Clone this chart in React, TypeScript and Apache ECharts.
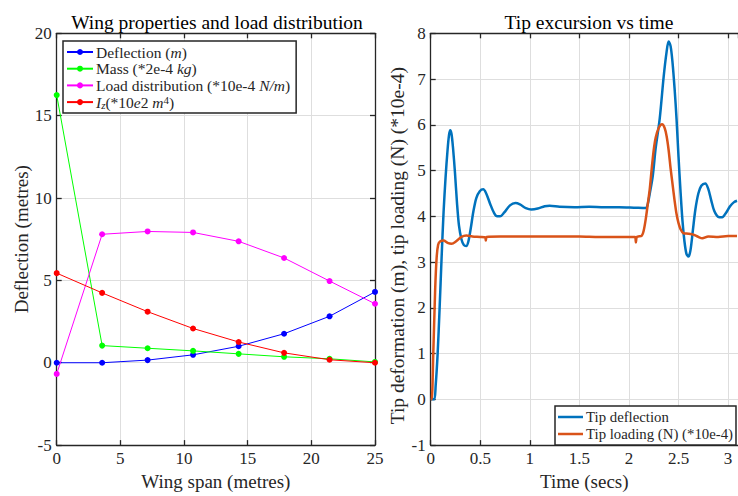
import React, { useEffect, useRef } from 'react';
import * as echarts from 'echarts';

// ---- Left plot data (wing span stations, metres) ----
const spanStations = [0, 3.57, 7.14, 10.71, 14.29, 17.86, 21.43, 25];
const deflection = [0, 0, 0.16, 0.48, 1.0, 1.76, 2.82, 4.3];
const mass = [16.25, 1.04, 0.88, 0.72, 0.54, 0.36, 0.24, 0.05];
const loadDist = [-0.68, 7.8, 7.97, 7.91, 7.37, 6.36, 4.96, 3.58];
const inertia = [5.44, 4.24, 3.1, 2.08, 1.26, 0.6, 0.18, 0];

// ---- Right plot data (time secs, value) ----
const tipDeflection: [number, number][] = [
  [0, 0], [0.035, 0], [0.05, 0.3], [0.07, 1.0], [0.09, 2.0], [0.11, 3.1], [0.13, 4.1],
  [0.15, 4.85], [0.17, 5.45], [0.185, 5.78], [0.197, 5.88], [0.21, 5.8], [0.225, 5.5],
  [0.245, 4.95], [0.265, 4.3], [0.285, 3.8], [0.31, 3.5], [0.335, 3.37], [0.358, 3.35],
  [0.38, 3.45], [0.405, 3.75], [0.43, 4.1], [0.46, 4.4], [0.495, 4.55], [0.53, 4.59],
  [0.56, 4.5], [0.6, 4.27], [0.64, 4.07], [0.67, 4.0], [0.7, 4.0], [0.74, 4.08],
  [0.8, 4.24], [0.855, 4.29], [0.9, 4.26], [0.96, 4.18], [1.015, 4.15], [1.08, 4.17],
  [1.15, 4.22], [1.2, 4.23], [1.3, 4.21], [1.45, 4.2], [1.6, 4.21], [1.75, 4.2],
  [1.9, 4.2], [2.05, 4.19], [2.17, 4.18], [2.19, 4.27], [2.21, 4.5], [2.24, 4.88],
  [2.27, 5.5], [2.31, 6.13], [2.35, 7.05], [2.38, 7.6], [2.4, 7.82], [2.42, 7.72],
  [2.44, 7.35], [2.46, 6.8], [2.48, 6.13], [2.5, 5.3], [2.52, 4.55], [2.54, 3.9],
  [2.56, 3.45], [2.58, 3.18], [2.6, 3.12], [2.62, 3.25], [2.645, 3.7], [2.67, 4.15],
  [2.7, 4.5], [2.73, 4.67], [2.77, 4.72], [2.8, 4.6], [2.83, 4.35], [2.86, 4.12],
  [2.9, 3.99], [2.94, 3.98], [2.98, 4.08], [3.02, 4.22], [3.06, 4.31], [3.09, 4.34],
];
const tipLoading: [number, number][] = [
  [0, 0], [0.01, 0], [0.026, 1.0], [0.045, 2.4], [0.06, 3.1], [0.075, 3.38], [0.094, 3.45],
  [0.13, 3.47], [0.17, 3.42], [0.21, 3.4], [0.26, 3.46], [0.31, 3.55], [0.36, 3.58],
  [0.42, 3.56], [0.5, 3.55], [0.55, 3.54], [0.556, 3.47], [0.565, 3.55], [0.7, 3.56],
  [0.9, 3.56], [1.1, 3.56], [1.3, 3.56], [1.5, 3.56], [1.7, 3.55], [1.9, 3.55],
  [2.06, 3.55], [2.07, 3.43], [2.08, 3.55], [2.13, 3.58], [2.15, 3.7], [2.17, 3.95],
  [2.19, 4.27], [2.21, 4.6], [2.23, 5.05], [2.25, 5.45], [2.27, 5.72], [2.3, 5.93],
  [2.334, 6.01], [2.36, 5.93], [2.38, 5.75], [2.4, 5.45], [2.42, 5.05], [2.44, 4.7],
  [2.46, 4.35], [2.48, 4.05], [2.5, 3.85], [2.52, 3.72], [2.55, 3.63], [2.6, 3.62],
  [2.65, 3.6], [2.7, 3.55], [2.74, 3.52], [2.8, 3.56], [2.9, 3.55], [3.0, 3.57],
  [3.09, 3.57],
];

const leftXTicks = { min: 0, max: 25, interval: 5 };
const leftYTicks = { min: -5, max: 20, interval: 5 };
const rightXTicks = { min: 0, max: 3.1, interval: 0.5 };
const rightYTicks = { min: -1, max: 8, interval: 1 };

const FONT = 'Liberation Serif';
const INK = '#262626';

const legendLabels: Record<string, string> = {
  Deflection: 'Deflection ({i|m})',
  Mass: 'Mass (*2e-4 {i|kg})',
  'Load distribution': 'Load distribution (*10e-4 {i|N/m})',
  Iz: '{i|I}{sub|z}(*10{i|e}2 {i|m}{sup|4})',
};

export default function App() {
  const ref = useRef<HTMLDivElement>(null);
  useEffect(() => {
    if (!ref.current) return;
    const chart = echarts.init(ref.current, null, { renderer: 'svg' });

    const axisLine = { show: true, onZero: false, lineStyle: { color: INK, width: 1.3 } };
    const tick = { show: true, inside: true, length: 5, lineStyle: { color: INK, width: 1.3 } };
    const split = { show: true, lineStyle: { color: '#dedede', width: 1 } };
    const label = { color: INK, fontFamily: FONT, fontSize: 17 };
    const nameStyle = { fontFamily: FONT, fontSize: 19, color: INK };

    const leftSeries = (name: string, data: number[], color: string) => ({
      name,
      type: 'line',
      xAxisIndex: 0,
      yAxisIndex: 0,
      data: spanStations.map((x, i) => [x, data[i]]),
      symbol: 'circle',
      symbolSize: 6,
      lineStyle: { color, width: 1 },
      itemStyle: { color },
      z: 3,
    });

    const option: any = {
      animation: false,
      backgroundColor: '#fff',
      textStyle: { fontFamily: FONT },
      title: [
        {
          text: 'Wing properties and load distribution',
          left: 212, top: 7, textAlign: 'center',
          textStyle: { fontFamily: FONT, fontSize: 19.5, fontWeight: 'normal', color: '#000' },
        },
        {
          text: 'Tip excursion vs time',
          left: 584, top: 7, textAlign: 'center',
          textStyle: { fontFamily: FONT, fontSize: 19.5, fontWeight: 'normal', color: '#000' },
        },
      ],
      grid: [
        { left: 56.7, top: 33.3, width: 318.3, height: 417.4, containLabel: false },
        { left: 430.7, top: 33.3, width: 308.1, height: 418.4, containLabel: false },
      ],
      xAxis: [
        {
          gridIndex: 0, type: 'value', ...leftXTicks, position: 'bottom',
          name: 'Wing span (metres)', nameLocation: 'middle', nameGap: 23,
          nameTextStyle: nameStyle,
          axisLine, axisTick: tick, splitLine: split,
          axisLabel: { ...label, margin: 5 },
        },
        {
          gridIndex: 0, type: 'value', ...leftXTicks, position: 'top',
          axisLine, axisTick: tick, splitLine: { show: false }, axisLabel: { show: false },
        },
        {
          gridIndex: 1, type: 'value', ...rightXTicks, position: 'bottom',
          name: 'Time (secs)', nameLocation: 'middle', nameGap: 23,
          nameTextStyle: nameStyle,
          axisLine, axisTick: tick, splitLine: split,
          axisLabel: { ...label, margin: 5, showMaxLabel: false },
        },
        {
          gridIndex: 1, type: 'value', ...rightXTicks, position: 'top',
          axisLine, axisTick: tick, splitLine: { show: false }, axisLabel: { show: false },
        },
      ],
      yAxis: [
        {
          gridIndex: 0, type: 'value', ...leftYTicks, position: 'left',
          name: 'Deflection (metres)', nameLocation: 'middle', nameGap: 25,
          nameTextStyle: nameStyle,
          axisLine, axisTick: tick, splitLine: split,
          axisLabel: { ...label, margin: 5 },
        },
        {
          gridIndex: 0, type: 'value', ...leftYTicks, position: 'right',
          axisLine, axisTick: tick, splitLine: { show: false }, axisLabel: { show: false },
        },
        {
          gridIndex: 1, type: 'value', ...rightYTicks, position: 'left',
          name: 'Tip deformation (m), tip loading (N) (*10e-4)', nameLocation: 'middle', nameGap: 22,
          nameTextStyle: { ...nameStyle, fontSize: 19.5, padding: [0, 13, 0, 0] },
          axisLine, axisTick: tick, splitLine: split,
          axisLabel: { ...label, margin: 5 },
        },
      ],
      legend: [
        {
          data: ['Deflection', 'Mass', 'Load distribution', 'Iz'],
          orient: 'vertical', left: 63, top: 41,
          padding: [3, 6, 3, 3], itemGap: 0.7, itemWidth: 26, itemHeight: 7.5,
          borderColor: INK, borderWidth: 1.5, backgroundColor: '#fff',
          selectedMode: false,
          formatter: (n: string) => legendLabels[n] ?? n,
          textStyle: {
            fontFamily: FONT, fontSize: 15.5, color: INK, lineHeight: 16, padding: [0, 0, 0, -2],
            rich: {
              i: { fontFamily: FONT, fontSize: 15.5, fontStyle: 'italic', color: INK, lineHeight: 16 },
              sub: { fontFamily: FONT, fontSize: 11, fontStyle: 'italic', color: INK, verticalAlign: 'bottom', lineHeight: 16 },
              sup: { fontFamily: FONT, fontSize: 11, color: INK, verticalAlign: 'top', lineHeight: 16 },
            },
          },
        },
        {
          data: ['Tip deflection', 'Tip loading (N) (*10e-4)'],
          orient: 'vertical', left: 555, top: 406,
          padding: [3, 3, 3, 3], itemGap: 1, itemWidth: 25, itemHeight: 2.5,
          icon: 'rect',
          borderColor: INK, borderWidth: 1.5, backgroundColor: '#fff',
          selectedMode: false,
          textStyle: { fontFamily: FONT, fontSize: 14.8, color: INK, lineHeight: 16, padding: [0, 0, 0, -2] },
        },
      ],
      series: [
        leftSeries('Deflection', deflection, '#0000ff'),
        leftSeries('Mass', mass, '#00ff00'),
        leftSeries('Load distribution', loadDist, '#ff00ff'),
        leftSeries('Iz', inertia, '#ff0000'),
        {
          name: 'Tip deflection', type: 'line', xAxisIndex: 2, yAxisIndex: 2,
          data: tipDeflection, showSymbol: false, symbol: 'none',
          smooth: 0.3,
          lineStyle: { color: '#0072bd', width: 2.5 }, itemStyle: { color: '#0072bd' },
        },
        {
          name: 'Tip loading (N) (*10e-4)', type: 'line', xAxisIndex: 2, yAxisIndex: 2,
          data: tipLoading, showSymbol: false, symbol: 'none',
          smooth: 0.3,
          lineStyle: { color: '#d95319', width: 2.5 }, itemStyle: { color: '#d95319' },
        },
      ],
    };
    chart.setOption(option);
    return () => chart.dispose();
  }, []);
  return (
    <div
      ref={ref}
      style={{ position: 'fixed', left: 0, top: 0, width: 738, height: 496, background: '#fff' }}
    />
  );
}
